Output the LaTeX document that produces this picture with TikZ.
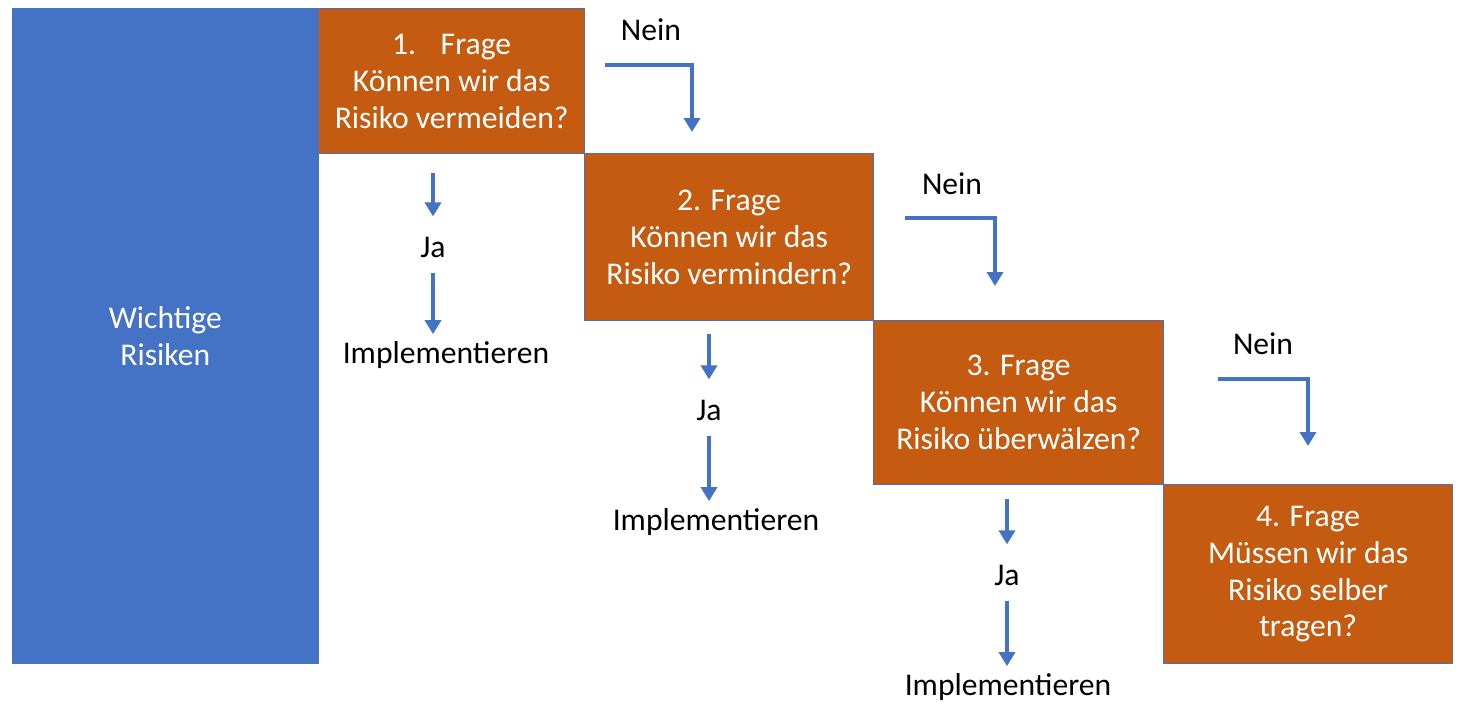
\documentclass[tikz,border=0pt]{standalone}
\usepackage{fontspec}
\setmainfont{Carlito}
\usetikzlibrary{arrows.meta, positioning, calc}

\definecolor{riskblue}{HTML}{4472C4}
\definecolor{frageorange}{HTML}{C55A11}

\begin{document}
\begin{tikzpicture}[x=0.02cm, y=-0.02cm,
    % Styles
    risk box/.style={fill=riskblue, draw=riskblue, anchor=north west, align=center, text=white, font=\fontsize{18}{21}\selectfont},
    frage box/.style={fill=frageorange, draw=riskblue, line width=0.8pt, anchor=north west, align=center, text=white, inner sep=0, font=\fontsize{18}{21}\selectfont},
    answer/.style={inner sep=0, font=\fontsize{18}{21}\selectfont},
    arr/.style={draw=riskblue, line width=2.5pt, -{Triangle[width=0.32cm, length=0.28cm]}},
]
    \useasboundingbox (0,0) rectangle (1459,703);

    % Important risks on the left
    \node[risk box, minimum width=6.12cm, minimum height=13.1cm] (risks) at (12,8) {Wichtige\\Risiken};

    % Question boxes - stepping down to the right
    \node[frage box, minimum width=5.32cm, minimum height=2.9cm] (box1) at (318,8) {1.\hspace{14pt}Frage\\Können wir das\\Risiko vermeiden?};
    \node[frage box, minimum width=5.78cm, minimum height=3.34cm] (box2) at (584,153) {2. Frage\\Können wir das\\Risiko vermindern?};
    \node[frage box, minimum width=5.8cm, minimum height=3.28cm] (box3) at (873,320) {3. Frage\\Können wir das\\Risiko überwälzen?};
    \node[frage box, minimum width=5.78cm, minimum height=3.58cm] (box4) at (1163,484) {4. Frage\\Müssen wir das\\Risiko selber\\tragen?};

    % Nein labels and elbow arrows
    \node[answer] (nein1) at (651,30) {Nein};
    \node[answer] (nein2) at (952,184) {Nein};
    \node[answer] (nein3) at (1263,344) {Nein};
    \coordinate (n1s) at (605,65);  \coordinate (n1e) at (692,132);
    \coordinate (n2s) at (905,218); \coordinate (n2e) at (995,286);
    \coordinate (n3s) at (1218,379); \coordinate (n3e) at (1308,446);
    \draw[arr] (n1s) -| (n1e);
    \draw[arr] (n2s) -| (n2e);
    \draw[arr] (n3s) -| (n3e);

    % Ja labels and implementation
    \node[answer] (ja1) at (433,247) {Ja};
    \node[answer] (ja2) at (709,410) {Ja};
    \node[answer] (ja3) at (1007,575) {Ja};
    \node[answer] (impl1) at (446,355) {Implementieren};
    \node[answer] (impl2) at (716,522) {Implementieren};
    \node[answer] (impl3) at (1008,687) {Implementieren};

    \draw[arr, shorten <=0.38cm, shorten >=0.4cm] (box1.south -| ja1) -- (ja1.north);
    \draw[arr, shorten <=0.3cm, shorten >=0.14cm] (ja1.south) -- (ja1 |- impl1.north);
    \draw[arr, shorten <=0.26cm, shorten >=0.4cm] (box2.south -| ja2) -- (ja2.north);
    \draw[arr, shorten <=0.3cm, shorten >=0.14cm] (ja2.south) -- (ja2 |- impl2.north);
    \draw[arr, shorten <=0.28cm, shorten >=0.4cm] (box3.south -| ja3) -- (ja3.north);
    \draw[arr, shorten <=0.3cm, shorten >=0.14cm] (ja3.south) -- (ja3 |- impl3.north);
\end{tikzpicture}
\end{document}
